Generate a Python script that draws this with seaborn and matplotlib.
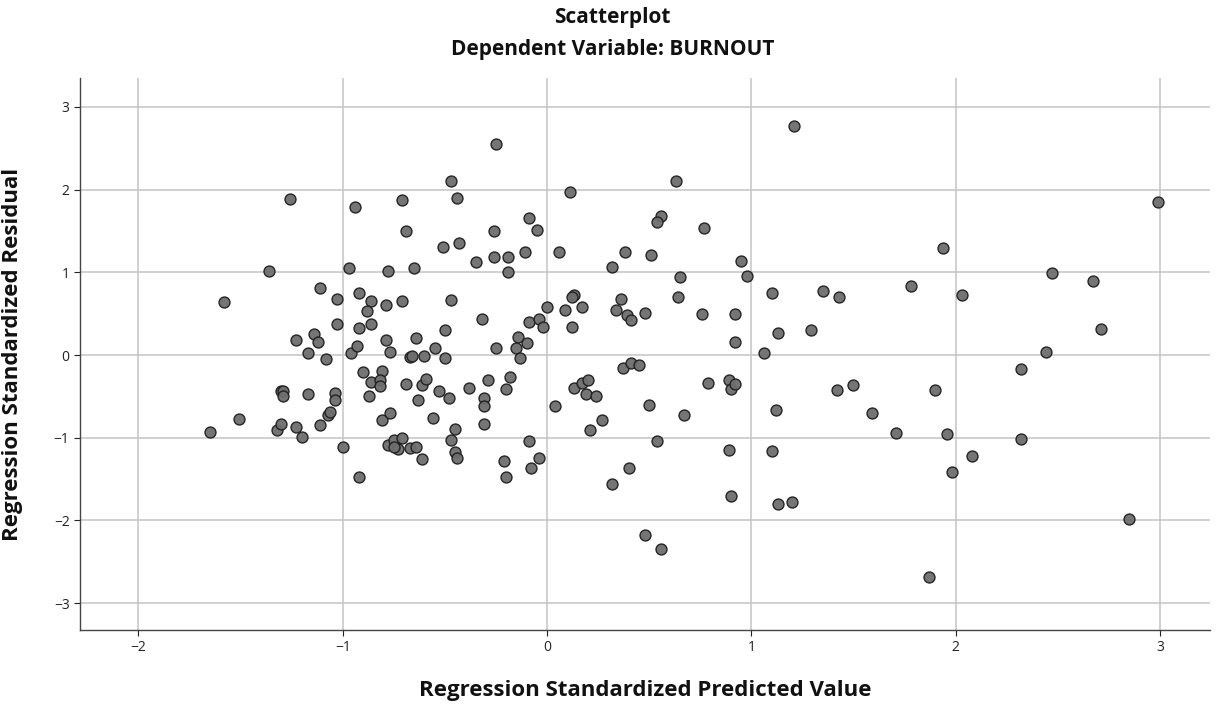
import matplotlib
matplotlib.use("Agg")
import matplotlib.pyplot as plt
import seaborn as sns
import pandas as pd

# Standardized predicted values (x) and standardized residuals (y)
pred = [
    1.21, -0.25, -0.47, -0.44, 0.63, 0.11, -1.26, -0.71, -0.94, 2.99,
    -0.09, 0.56, 0.54, -0.05, -0.26, -0.69, 0.77, -0.51, -0.43, 1.94,
    -1.36, -0.97, -0.78, -0.65, -0.35, -0.26, -0.19, -0.11, 0.06, 0.38,
    0.51, 0.95, 0.98, 0.65, 0.32, -0.19, 2.47, 2.67, 1.78, 1.35,
    1.43, 1.10, 2.03, -1.58, -1.11, -0.92, -0.86, -0.71, -0.79, -0.47,
    -1.03, 0.13, 0.12, 0.36, 0.64, 0.17, 0.00, 0.09, 0.34, 0.39,
    0.48, 0.41, 0.76, 0.92, -0.88, -0.86, -0.92, -1.03, -1.14, -1.12,
    -1.23, -0.50, -0.32, -0.09, -0.04, -0.02, 0.12, -0.14, -0.10, 2.71,
    1.29, 1.13, 0.92, 1.06, 2.44, -0.25, -0.15, -0.13, -0.96, -0.93,
    -0.79, -0.77, -0.67, -0.66, -0.64, -0.60, -0.55, -0.50, -1.08, -1.17,
    -0.90, -0.81, -0.86, -0.82, -0.82, -0.69, -0.61, -0.63, -0.59, -0.48,
    -0.38, -0.31, -0.31, -0.29, -0.20, -0.18, -1.30, -1.29, -1.29, -1.17,
    -1.04, -1.04, -1.11, -1.07, -1.06, -1.32, -1.30, -1.23, -1.20, -1.51,
    -1.65, -1.00, -0.92, -0.87, -0.81, -0.77, -0.78, -0.73, -0.75, -0.75,
    -0.71, -0.67, -0.64, -0.61, -0.56, -0.47, -0.45, -0.45, -0.44, -0.53,
    -0.31, -0.21, -0.20, -0.09, -0.08, -0.04, 0.04, 0.13, 0.17, 0.20,
    0.19, 0.24, 0.27, 0.21, 0.37, 0.41, 0.45, 0.50, 0.67, 0.79,
    0.89, 0.90, 0.92, 0.89, 0.90, 0.32, 0.40, 0.54, 0.48, 0.56,
    1.12, 1.10, 1.13, 1.20, 1.42, 1.50, 1.59, 1.71, 1.87, 1.90,
    1.96, 1.98, 2.08, 2.32, 2.32, 2.85,
]
resid = [
    2.77, 2.55, 2.10, 1.90, 2.11, 1.97, 1.89, 1.88, 1.79, 1.85,
    1.66, 1.68, 1.61, 1.51, 1.50, 1.50, 1.54, 1.31, 1.35, 1.30,
    1.02, 1.05, 1.02, 1.05, 1.12, 1.18, 1.18, 1.25, 1.24, 1.25,
    1.21, 1.14, 0.96, 0.94, 1.07, 1.00, 0.99, 0.89, 0.84, 0.77,
    0.70, 0.75, 0.73, 0.64, 0.81, 0.75, 0.65, 0.65, 0.61, 0.66,
    0.68, 0.72, 0.70, 0.68, 0.70, 0.58, 0.58, 0.54, 0.54, 0.49,
    0.51, 0.42, 0.50, 0.50, 0.53, 0.38, 0.33, 0.37, 0.26, 0.16,
    0.18, 0.30, 0.43, 0.40, 0.43, 0.34, 0.34, 0.22, 0.15, 0.32,
    0.30, 0.27, 0.16, 0.02, 0.04, 0.08, 0.09, -0.03, 0.03, 0.11,
    0.18, 0.04, -0.02, -0.01, 0.21, -0.01, 0.08, -0.03, -0.05, 0.02,
    -0.20, -0.19, -0.33, -0.30, -0.38, -0.35, -0.36, -0.54, -0.29, -0.52,
    -0.40, -0.52, -0.62, -0.30, -0.41, -0.27, -0.43, -0.44, -0.50, -0.47,
    -0.46, -0.54, -0.85, -0.72, -0.69, -0.91, -0.83, -0.87, -0.99, -0.77,
    -0.93, -1.11, -1.48, -0.50, -0.79, -0.70, -1.09, -1.14, -1.03, -1.11,
    -1.00, -1.12, -1.11, -1.26, -0.76, -1.03, -0.90, -1.17, -1.24, -0.43,
    -0.84, -1.28, -1.47, -1.04, -1.37, -1.25, -0.62, -0.40, -0.34, -0.30,
    -0.47, -0.49, -0.79, -0.91, -0.16, -0.10, -0.12, -0.60, -0.72, -0.34,
    -0.30, -0.41, -0.35, -1.15, -1.71, -1.56, -1.37, -1.04, -2.18, -2.35,
    -0.66, -1.16, -1.80, -1.78, -0.42, -0.36, -0.70, -0.94, -2.69, -0.42,
    -0.96, -1.42, -1.22, -0.17, -1.01, -1.98,
]

x_ticks = [-2, -1, 0, 1, 2, 3]
y_ticks = [-3, -2, -1, 0, 1, 2, 3]

df = pd.DataFrame({"pred": pred, "resid": resid})

sns.set_theme(style="white")
plt.rcParams["font.family"] = ["Liberation Sans Narrow", "Open Sans", "DejaVu Sans"]

fig = plt.figure(figsize=(12.25, 7.11), dpi=100)
ax = fig.add_axes([80 / 1225, 1 - 630 / 711, 1130 / 1225, 552 / 711])

ax.set_axisbelow(True)
for v in x_ticks:
    ax.axvline(v, color="#c8c8c8", lw=1.2, zorder=0)
for v in y_ticks:
    ax.axhline(v, color="#c8c8c8", lw=1.2, zorder=0)

sns.scatterplot(data=df, x="pred", y="resid", ax=ax, s=62,
                color="#6e6e6e", edgecolor="#1e1e1e", linewidth=1.0,
                alpha=0.95, zorder=3, legend=False)

ax.set_xlim(-2.286, 3.245)
ax.set_ylim(-3.325, 3.35)
ax.set_xticks(x_ticks)
ax.set_yticks(y_ticks)
ax.set_xticklabels(["\u22122", "\u22121", "0", "1", "2", "3"])
ax.set_yticklabels(["\u22123", "\u22122", "\u22121", "0", "1", "2", "3"])
ax.tick_params(axis="both", labelsize=10, colors="#222222", length=4,
               width=0.8, direction="out", bottom=True, left=True)

for side in ["top", "right"]:
    ax.spines[side].set_visible(False)
for side in ["left", "bottom"]:
    ax.spines[side].set_color("#444444")
    ax.spines[side].set_linewidth(1.0)

ax.set_xlabel("Regression Standardized Predicted Value", fontsize=16,
              fontweight="bold", color="#111111", labelpad=18)
ax.set_ylabel("Regression Standardized Residual", fontsize=16,
              fontweight="bold", color="#111111", labelpad=22)

fig.text(0.5, 1 - 17 / 711, "Scatterplot", ha="center", va="center",
         fontsize=15, fontweight="bold", color="#111111")
fig.text(0.5, 1 - 49 / 711, "Dependent Variable: BURNOUT", ha="center",
         va="center", fontsize=15, fontweight="bold", color="#111111")

fig.savefig("out.png", dpi=100, facecolor="white")
